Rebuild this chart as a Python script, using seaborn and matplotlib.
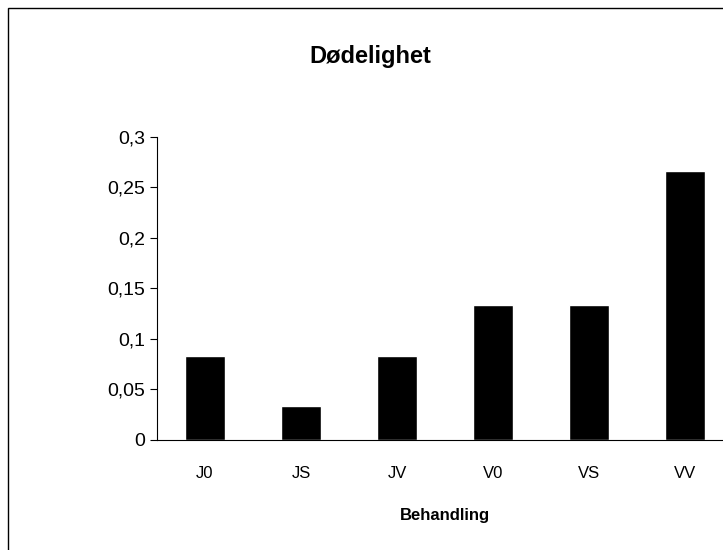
import matplotlib
matplotlib.use("Agg")
import matplotlib.pyplot as plt
import seaborn as sns
import numpy as np

categories = ["J0", "JS", "JV", "V0", "VS", "VV"]
values = [0.0833, 0.0333, 0.0833, 0.1333, 0.1333, 0.2667]

sns.set_style("white")
plt.rcParams['font.family'] = ['Liberation Sans', 'DejaVu Sans']
plt.rcParams['text.color'] = 'black'
plt.rcParams['axes.labelcolor'] = 'black'
plt.rcParams['xtick.color'] = 'black'
plt.rcParams['ytick.color'] = 'black'

fig = plt.figure(figsize=(7.23, 5.5), dpi=100)
# chart border (extends beyond the right/bottom edge like the reference)
fig.patches.append(plt.Rectangle((8 / 723, -0.1), 1.2, 1 - 8 / 550 + 0.1,
                                 transform=fig.transFigure, fill=False,
                                 edgecolor="black", linewidth=1))

ax = fig.add_axes([157 / 723, 0.2, 576 / 723, 0.551])
sns.barplot(x=categories, y=values, color="black", width=0.41, saturation=1, ax=ax)

ax.set_xlim(-0.5, 5.5)
ax.set_ylim(0, 0.3)
ax.set_yticks(np.arange(0, 0.31, 0.05))
ax.set_yticklabels(["0", "0,05", "0,1", "0,15", "0,2", "0,25", "0,3"], fontsize=14)
ax.set_xticks(range(6))
ax.set_xticklabels(categories, fontsize=12)
ax.set_xticks(np.arange(-0.5, 6, 1), minor=True)
ax.tick_params(axis="x", which="major", length=0, pad=19)
ax.tick_params(axis="x", which="minor", length=5, direction="out", color="black", width=0.8)
ax.tick_params(axis="y", length=5, direction="out", color="black", width=0.8, left=True)
for s in ["top", "right"]:
    ax.spines[s].set_visible(False)
for s in ["left", "bottom"]:
    ax.spines[s].set_color("black")
    ax.spines[s].set_linewidth(0.8)
ax.set_xlabel("Behandling", fontsize=12, fontweight="bold", labelpad=19)
ax.set_ylabel("")

fig.text(370 / 723, 1 - 57 / 550, "Dødelighet", ha="center", va="center",
         fontsize=17, fontweight="bold")

fig.savefig("out.png", dpi=100)
